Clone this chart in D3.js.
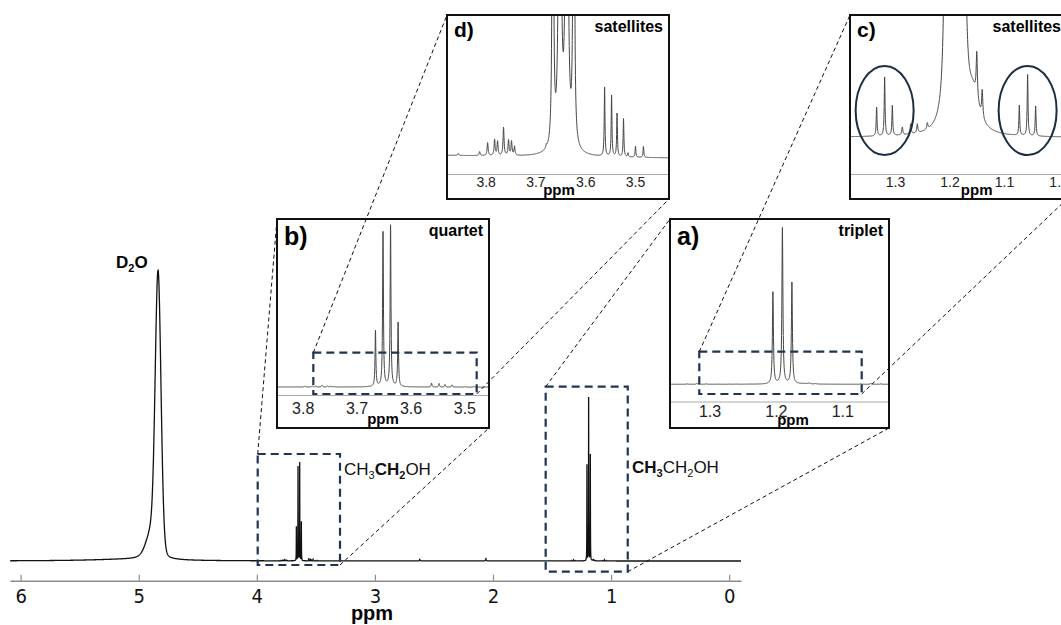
<!DOCTYPE html>
<html>
<head>
<meta charset="utf-8">
<script src="https://cdn.jsdelivr.net/npm/d3@7"></script>
<style>
  body { margin: 0; background: #fff; }
  svg { display: block; }
  text { font-family: Arial, "Liberation Sans", sans-serif; }
</style>
</head>
<body>
<script>
// ---- spectrum: peak list (ppm, height in main-plot px, half width in ppm, lorentz fraction)
var peakPpm = [4.836, 4.90, 5.10,
  3.665, 3.651, 3.637, 3.623, 3.644, 3.678,
  3.855, 3.812, 3.796, 3.782, 3.776, 3.764, 3.754, 3.748, 3.742,
  3.561, 3.547, 3.536, 3.523, 3.514, 3.499, 3.483,
  2.62, 2.06,
  1.2045, 1.1902, 1.1759, 1.156, 1.150, 1.140,
  1.3336, 1.3189, 1.3048, 1.2865, 1.2712, 1.259, 1.2406,
  1.0720, 1.0568, 1.0421];
var peakHeight = [281, 25, 1.5,
  34, 94, 98, 39, 0.5, 0.1,
  0.07, 0.14, 0.46, 0.57, 0.5, 1.0, 0.54, 0.5, 0.32,
  2.46, 2.18, 1.54, 1.36, 0.14, 0.39, 0.39,
  1.5, 2.5,
  96, 163, 106, 0.55, 0.75, 0.45,
  0.48, 0.98, 0.5, 0.13, 0.17, 0.15, 0.1,
  0.5, 1.02, 0.5];
var peakWidth = [0.029, 0.05, 0.4,
  0.0009, 0.0009, 0.0009, 0.0009, 0.012, 0.001,
  0.0012, 0.0012, 0.0012, 0.0012, 0.0012, 0.0012, 0.0012, 0.0012, 0.0012,
  0.0009, 0.0009, 0.0009, 0.0009, 0.0009, 0.0009, 0.0009,
  0.003, 0.003,
  0.0009, 0.0009, 0.0009, 0.012, 0.0013, 0.0013,
  0.0009, 0.0009, 0.0009, 0.0012, 0.0012, 0.0012, 0.0012,
  0.0009, 0.0009, 0.0009];
var peakShape = [0.1, 0.5, 1,
  1, 1, 1, 1, 1, 1,
  1, 1, 1, 1, 1, 1, 1, 1, 1,
  1, 1, 1, 1, 1, 1, 1,
  1, 1,
  1, 1, 1, 1, 1, 1,
  1, 1, 1, 1, 1, 1, 1,
  1, 1, 1];

// ---- axes
var mainTicks = [6, 5, 4, 3, 2, 1, 0];
var ticksA = [1.3, 1.2, 1.1];
var ticksB = [3.8, 3.7, 3.6, 3.5];
var ticksC = [1.3, 1.2, 1.1, 1.0];
var ticksD = [3.8, 3.7, 3.6, 3.5];

// ---- zoomed regions (ppm) shown as dashed boxes
var mainZoom = [[3.9925, 3.2955], [1.554, 0.859]];
var zoomInB = [3.7803, 3.4772];
var zoomInA = [1.3154, 1.0708];
var satelliteMarks = [1.3189, 1.0568];

var W = 1061, H = 625;
var svg = d3.select("body").append("svg").attr("width", W).attr("height", H);

function intensity(p) {
  var s = 0;
  for (var i = 0; i < peakPpm.length; i++) {
    var d = (p - peakPpm[i]) / peakWidth[i];
    var L = 1 / (1 + d * d);
    var G = Math.exp(-Math.LN2 * d * d);
    s += peakHeight[i] * (peakShape[i] * L + (1 - peakShape[i]) * G);
  }
  return s;
}

function sample(lo, hi, n) {
  var pts = d3.range(n + 1).map(function (i) { return lo + (hi - lo) * i / n; });
  var offs = [0, 0.3, 0.6, 1, 1.5, 2, 3, 5, 8, 14];
  peakPpm.forEach(function (p, i) {
    if (p < lo - 0.2 || p > hi + 0.2) return;
    offs.forEach(function (k) { pts.push(p + k * peakWidth[i], p - k * peakWidth[i]); });
  });
  pts = pts.filter(function (p) { return p >= lo && p <= hi; }).sort(d3.ascending);
  return pts.map(function (p) { return [p, intensity(p)]; });
}

// ---- main spectrum
var x = d3.scaleLinear().domain([6.09, -0.10]).range([10, 741]);
var y = d3.scaleLinear().domain([0, 1]).range([561, 560]);

svg.append("path")
  .attr("d", d3.line().x(function (d) { return x(d[0]); }).y(function (d) { return y(d[1]); })(sample(-0.10, 6.09, 3000)))
  .attr("fill", "none").attr("stroke", "#111").attr("stroke-width", 1.3);

var gx = svg.append("g").attr("transform", "translate(0,580.7)")
  .call(d3.axisBottom(x).tickValues(mainTicks).tickSizeInner(-6).tickSizeOuter(0).tickPadding(8).tickFormat(d3.format("d")));
gx.select(".domain").attr("stroke", "#8c8c8c").attr("stroke-width", 1.5);
gx.selectAll(".tick line").attr("stroke", "#8c8c8c").attr("stroke-width", 1.2);
gx.selectAll(".tick text").attr("fill", "#111").style("font-family", "'Liberation Sans Narrow','Arial Narrow','DejaVu Sans Condensed',sans-serif").style("font-size", "20px");

svg.append("text").attr("x", 372).attr("y", 620).attr("text-anchor", "middle")
  .style("font-size", "20px").style("font-weight", "bold").text("ppm");

// labels in main plot
var d2o = svg.append("text").attr("x", 116).attr("y", 268).style("font-size", "17px").style("font-weight", "bold");
d2o.append("tspan").text("D");
d2o.append("tspan").attr("dy", 4).style("font-size", "11px").text("2");
d2o.append("tspan").attr("dy", -4).text("O");

function ethanol(xp, yp, boldFirst) {
  var t = svg.append("text").attr("x", xp).attr("y", yp).style("font-size", "17px").attr("fill", "#111");
  t.append("tspan").style("font-weight", boldFirst ? "bold" : "normal").text("CH");
  t.append("tspan").attr("dy", 4).style("font-size", "11px").style("font-weight", boldFirst ? "bold" : "normal").text("3");
  t.append("tspan").attr("dy", -4).style("font-weight", boldFirst ? "normal" : "bold").text("CH");
  t.append("tspan").attr("dy", 4).style("font-size", "11px").style("font-weight", boldFirst ? "normal" : "bold").text("2");
  t.append("tspan").attr("dy", -4).text("OH");
}
ethanol(344, 475, false);
ethanol(632, 473, true);

// ---- insets
var insets = {
  a: { x0: 670, x1: 889, y0: 219, y1: 428, ticks: ticksA, fit: [775.9, 1.2, 664], base: 384.3, gain: 0.957, axisY: 401.5, pad: 4, font: 16, label: "a)", lsize: 25, tag: "triplet", ppmX: 793, ppmY: 425 },
  b: { x0: 277, x1: 489, y0: 219, y1: 428, ticks: ticksB, fit: [383.55, 3.65, 539], base: 387.3, gain: 1.64, axisY: 395, pad: 8, font: 16, label: "b)", lsize: 25, tag: "quartet", ppmX: 383, ppmY: 424 },
  c: { x0: 850, x1: 1067, y0: 15, y1: 199, ticks: ticksC, fit: [949.5, 1.2, 545.5], base: 138.5, gain: 60, axisY: 174, pad: 3, font: 14, label: "c)", lsize: 21, tag: "satellites", ppmX: 976.7, ppmY: 195 },
  d: { x0: 447, x1: 669, y0: 15, y1: 199, ticks: ticksD, fit: [560.3, 3.65, 497.8], base: 161, gain: 28, axisY: 174, pad: 3, font: 14, label: "d)", lsize: 21, tag: "satellites", ppmX: 559, ppmY: 195 }
};

Object.keys(insets).forEach(function (k) {
  var b = insets[k];
  var hi = b.fit[1] + (b.fit[0] - b.x0) / b.fit[2];
  var lo = b.fit[1] - (b.x1 - b.fit[0]) / b.fit[2];
  b.x = d3.scaleLinear().domain([hi, lo]).range([b.x0, b.x1]);
  b.y = d3.scaleLinear().domain([0, 1]).range([b.base, b.base - b.gain]);

  var g = svg.append("g");
  g.append("rect").attr("x", b.x0).attr("y", b.y0).attr("width", b.x1 - b.x0).attr("height", b.y1 - b.y0).attr("fill", "#fff");
  svg.append("clipPath").attr("id", "clip" + k).append("rect")
    .attr("x", b.x0).attr("y", b.y0).attr("width", b.x1 - b.x0).attr("height", b.y1 - b.y0);

  var ax = g.append("g").attr("transform", "translate(0," + b.axisY + ")")
    .call(d3.axisBottom(b.x).tickValues(b.ticks).tickSize(0).tickPadding(b.pad).tickFormat(d3.format(".1f")));
  ax.select(".domain").attr("stroke", "#aaa").attr("stroke-width", 1);
  ax.selectAll(".tick text").attr("fill", "#222").style("font-size", b.font + "px");

  g.append("path").attr("clip-path", "url(#clip" + k + ")")
    .attr("d", d3.line().x(function (d) { return b.x(d[0]); }).y(function (d) { return b.y(d[1]); })(sample(lo, hi, 1500)))
    .attr("fill", "none").attr("stroke", "#444").attr("stroke-width", 1);

  g.append("text").attr("x", b.ppmX).attr("y", b.ppmY).attr("text-anchor", "middle")
    .style("font-size", "15px").style("font-weight", "bold").text("ppm");
  g.append("text").attr("x", b.x0 + 7).attr("y", b.y0 + b.lsize + 1).style("font-size", b.lsize + "px").style("font-weight", "bold").text(b.label);
  g.append("text").attr("x", b.x1 - 6).attr("y", b.y0 + 17).attr("text-anchor", "end")
    .style("font-size", "16px").style("font-weight", "bold").text(b.tag);
  g.append("rect").attr("x", b.x0).attr("y", b.y0).attr("width", b.x1 - b.x0).attr("height", b.y1 - b.y0)
    .attr("fill", "none").attr("stroke", "#111").attr("stroke-width", 2);
});

// satellite ellipses in c)
svg.selectAll("ellipse.sat").data(satelliteMarks).enter().append("ellipse")
  .attr("cx", function (d) { return insets.c.x(d); }).attr("cy", 110.5).attr("rx", 29).attr("ry", 44.5)
  .attr("fill", "none").attr("stroke", "#1c2d42").attr("stroke-width", 2);

// ---- dashed zoom boxes and connectors
var navy = "#1f3553";
function dashBox(x0, x1, y0, y1) {
  svg.append("rect").attr("x", x0).attr("y", y0).attr("width", x1 - x0).attr("height", y1 - y0)
    .attr("fill", "none").attr("stroke", navy).attr("stroke-width", 2.2).attr("stroke-dasharray", "8,5");
}
function connector(p, q) {
  svg.append("line").attr("x1", p[0]).attr("y1", p[1]).attr("x2", q[0]).attr("y2", q[1])
    .attr("stroke", "#111").attr("stroke-width", 1).attr("stroke-dasharray", "4,3");
}
var A = insets.a, B = insets.b, C = insets.c, D = insets.d;

var m1 = [x(mainZoom[0][0]), x(mainZoom[0][1]), 454, 565];
var m2 = [x(mainZoom[1][0]), x(mainZoom[1][1]), 386.7, 571.7];
dashBox(m1[0], m1[1], m1[2], m1[3]);
dashBox(m2[0], m2[1], m2[2], m2[3]);
connector([m1[0], m1[2]], [B.x0, B.y0]);
connector([m1[1], m1[3]], [B.x1, B.y1]);
connector([m2[0], m2[2]], [A.x0, A.y0]);
connector([m2[1], m2[3]], [A.x1, A.y1]);

var bb = [B.x(zoomInB[0]), B.x(zoomInB[1]), 352.7, 394];
var ab = [A.x(zoomInA[0]), A.x(zoomInA[1]), 351.7, 394];
dashBox(bb[0], bb[1], bb[2], bb[3]);
dashBox(ab[0], ab[1], ab[2], ab[3]);
connector([bb[0], bb[2]], [D.x0, D.y0]);
connector([bb[1], bb[3]], [D.x1, D.y1]);
connector([ab[0], ab[2]], [C.x0, C.y0]);
connector([ab[1], ab[3]], [C.x1, C.y1]);
</script>
</body>
</html>
